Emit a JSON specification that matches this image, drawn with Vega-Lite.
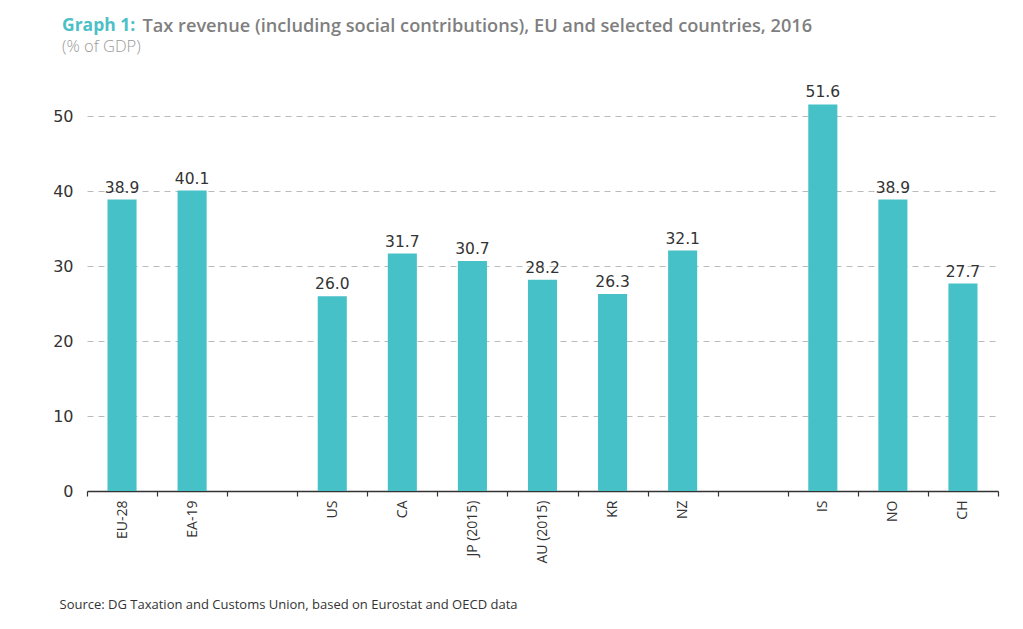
{
  "$schema": "https://vega.github.io/schema/vega-lite/v6.json",
  "autosize": {"type": "none"},
  "padding": {"left": 87, "top": 79, "right": 25, "bottom": 138},
  "width": 911,
  "height": 412,
  "background": "white",
  "title": {
    "text": "Graph 1:",
    "subtitle": "(% of GDP)",
    "anchor": "start",
    "frame": "group",
    "dx": -25,
    "offset": -39,
    "font": "Open Sans",
    "fontSize": 17.5,
    "fontWeight": "bold",
    "color": "#4dbfc6",
    "subtitleFont": "Open Sans",
    "subtitleFontSize": 16.5,
    "subtitleFontWeight": 300,
    "subtitleColor": "#9a9a9a",
    "subtitlePadding": 4
  },
  "data": {
    "values": [
      {"country": "EU-28", "value": 38.9},
      {"country": "EA-19", "value": 40.1},
      {"country": "US", "value": 26.0},
      {"country": "CA", "value": 31.7},
      {"country": "JP (2015)", "value": 30.7},
      {"country": "AU (2015)", "value": 28.2},
      {"country": "KR", "value": 26.3},
      {"country": "NZ", "value": 32.1},
      {"country": "IS", "value": 51.6},
      {"country": "NO", "value": 38.9},
      {"country": "CH", "value": 27.7}
    ]
  },
  "encoding": {
    "x": {
      "field": "country",
      "type": "nominal",
      "scale": {
        "domain": ["EU-28", "EA-19", "gap1", "US", "CA", "JP (2015)", "AU (2015)", "KR", "NZ", "gap2", "IS", "NO", "CH"],
        "paddingInner": 0,
        "paddingOuter": 0
      },
      "axis": {
        "title": "Source: DG Taxation and Customs Union, based on Eurostat and OECD data",
        "titleX": -28,
        "titleY": 117,
        "titleAlign": "left",
        "titleBaseline": "alphabetic",
        "titleFont": "Open Sans",
        "titleFontSize": 13,
        "titleFontWeight": "normal",
        "titleColor": "#333333",
        "labelExpr": "(datum.value == 'gap1' || datum.value == 'gap2') ? '' : datum.value",
        "labelAngle": -90,
        "labelFont": "Open Sans",
        "labelFontSize": 14,
        "labelColor": "#333333",
        "labelPadding": 4,
        "tickBand": "extent",
        "tickSize": 5,
        "tickColor": "#333333",
        "tickWidth": 1.2,
        "domainColor": "#333333",
        "domainWidth": 1.5,
        "grid": false
      }
    },
    "y": {
      "field": "value",
      "type": "quantitative",
      "scale": {"domain": [0, 55], "nice": false},
      "axis": {
        "values": [0, 10, 20, 30, 40, 50],
        "title": "Tax revenue (including social contributions), EU and selected countries, 2016",
        "titleAngle": 0,
        "titleX": 55,
        "titleY": -48,
        "titleAlign": "left",
        "titleBaseline": "alphabetic",
        "titleFont": "Open Sans",
        "titleFontSize": 18.2,
        "titleFontWeight": 600,
        "titleColor": "#7f7f7f",
        "labelFont": "DejaVu Sans",
        "labelFontSize": 16,
        "labelColor": "#333333",
        "labelPadding": 14,
        "domain": false,
        "ticks": false,
        "grid": true,
        "gridColor": "#bbbbbb",
        "gridDash": [6, 5],
        "gridWidth": 1
      }
    }
  },
  "layer": [
    {"mark": {"type": "bar", "color": "#47c1c8", "width": {"band": 0.415}}},
    {
      "mark": {
        "type": "text",
        "baseline": "alphabetic",
        "dy": -7,
        "font": "DejaVu Sans",
        "fontSize": 15.5,
        "color": "#333333"
      },
      "encoding": {"text": {"field": "value", "type": "quantitative", "format": ".1f"}}
    }
  ],
  "config": {"view": {"stroke": null}}
}
